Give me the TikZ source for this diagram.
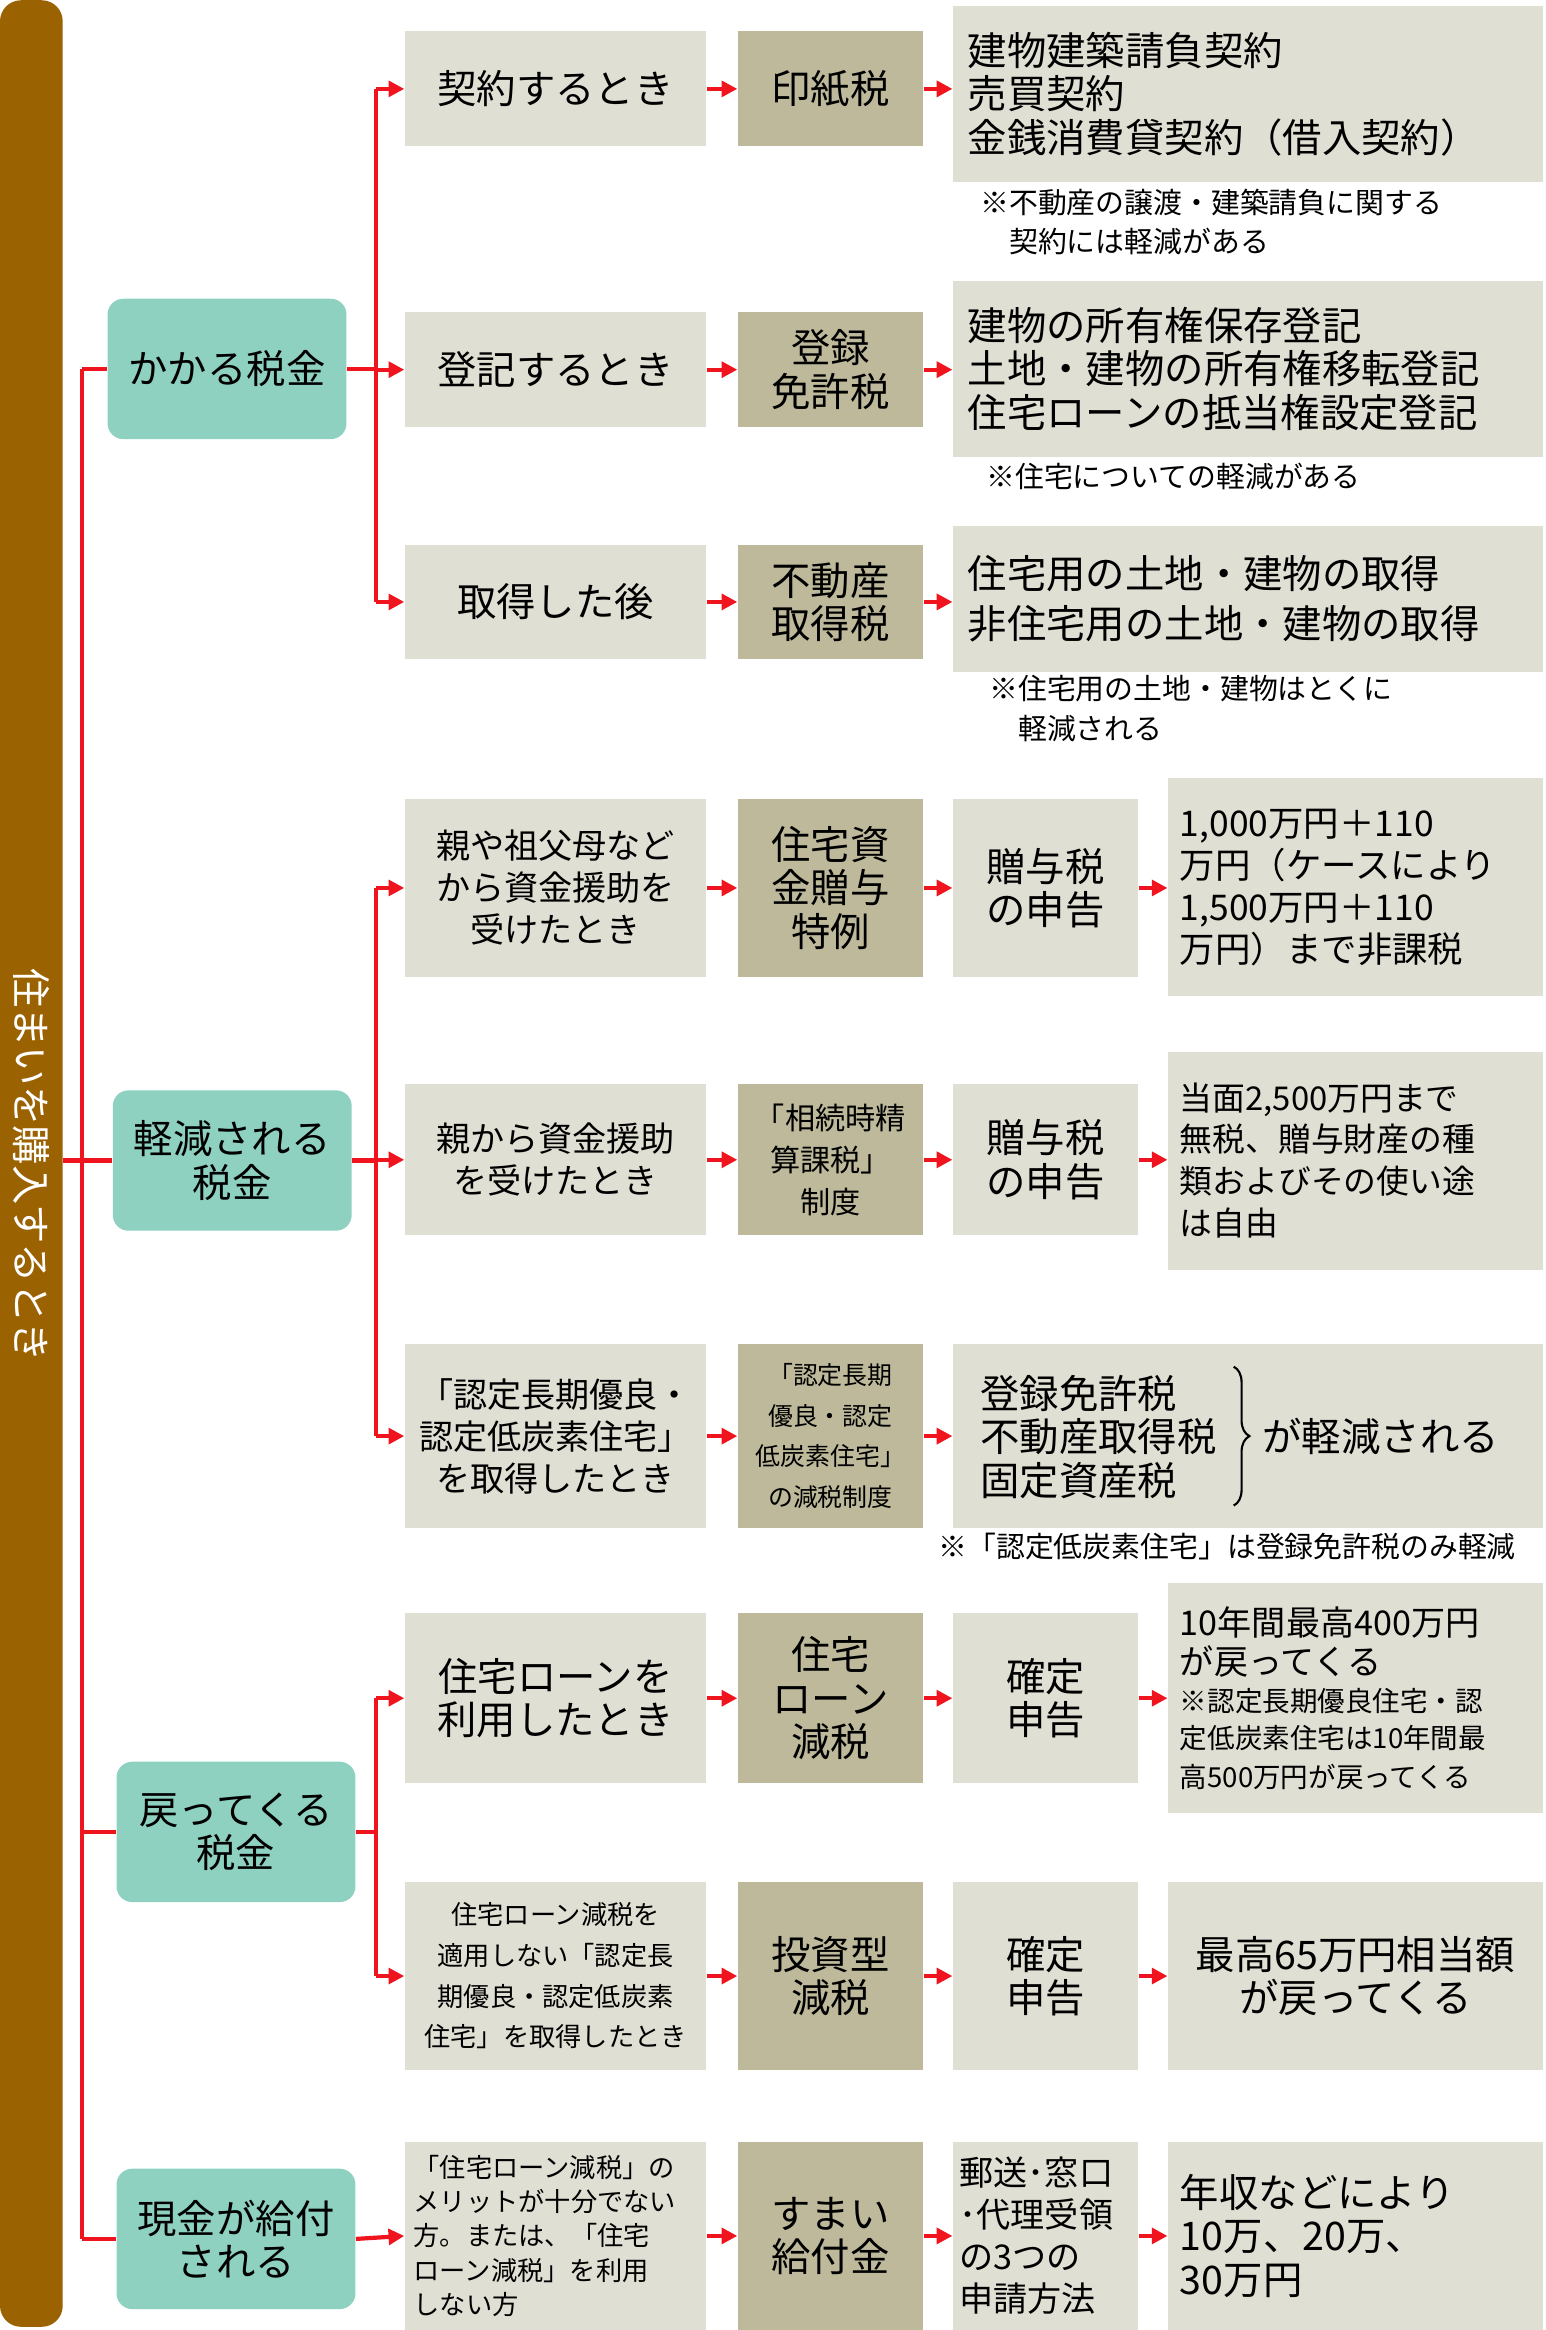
\documentclass[tikz,border=0pt]{standalone}
\usepackage{fontspec}
\setmainfont{Noto Sans CJK JP}
\usetikzlibrary{arrows.meta}
\usetikzlibrary{decorations.pathreplacing}
\definecolor{barbrown}{HTML}{9A6200}
\definecolor{catteal}{HTML}{8ED1C0}
\definecolor{boxlight}{HTML}{E0DFD3}
\definecolor{boxolive}{HTML}{BDB99A}
\definecolor{linered}{HTML}{F0141E}
\newcommand{\bigtxt}{\fontsize{15}{16.5}\selectfont}
\newcommand{\midtxt}{\fontsize{13}{16}\selectfont}
\newcommand{\smalltxt}{\fontsize{10}{15.5}\selectfont}
\newcommand{\notetxt}{\fontsize{11}{15}\selectfont}
\begin{document}
\begin{tikzpicture}[x={(0.02cm,0)},y={(0,-0.02cm)},
    cat/.style={fill=catteal,rounded corners=6pt,minimum width=3.2cm,minimum height=1.88cm,align=center,font=\bigtxt,inner sep=1pt},
    light/.style={fill=boxlight,align=center,font=\bigtxt,inner sep=2pt},
    olive/.style={fill=boxolive,align=center,font=\bigtxt,inner sep=1pt},
    cola/.style={minimum width=4.04cm},
    colb/.style={minimum width=2.48cm},
    wide/.style={light,minimum width=7.9cm,text width=7.5cm,align=left},
    colc/.style={light,minimum width=5.02cm,text width=4.7cm,align=left},
    arr/.style={linered,line width=1.6pt,-{Triangle[length=6pt,width=6pt]}},
    lin/.style={linered,line width=1.6pt},
    note/.style={anchor=north west,align=left,font=\notetxt,inner sep=0pt}]
    \useasboundingbox (0,0) rectangle (1035,1560);
    % left bar
    \node [fill=barbrown,rounded corners=8pt,minimum width=0.84cm,minimum height=31.16cm] (bar) at (21,779) {};
    \node [rotate=-90,text=white,font=\bigtxt] (bartext) at (21,780) {住まいを購入するとき};

    % categories
    \node [cat] (kakaru) at (152,247) {かかる税金};
    \node [cat] (keigen) at (155.5,777) {軽減される\\税金};
    \node [cat] (modoru) at (158,1226.5) {戻ってくる\\税金};
    \node [cat] (genkin) at (158,1499) {現金が給付\\される};

    % row 1-3
    \node [light,cola,minimum height=1.54cm] (r1a) at (372,59.5) {契約するとき};
    \node [olive,colb,minimum height=1.54cm] (r1b) at (556,59.5) {印紙税};
    \node [wide,minimum height=2.36cm] (r1c) at (835.5,63) {建物建築請負契約\\売買契約\\金銭消費貸契約（借入契約）};
    \node [note] (r1n) at (656,126) {※不動産の譲渡・建築請負に関する\\\quad 契約には軽減がある};

    \node [light,cola,minimum height=1.54cm] (r2a) at (372,247.5) {登記するとき};
    \node [olive,colb,minimum height=1.54cm] (r2b) at (556,247.5) {登録\\免許税};
    \node [wide,minimum height=2.36cm] (r2c) at (835.5,247) {建物の所有権保存登記\\土地・建物の所有権移転登記\\住宅ローンの抵当権設定登記};
    \node [note] (r2n) at (660,310) {※住宅についての軽減がある};

    \node [light,cola,minimum height=1.52cm] (r3a) at (372,403) {取得した後};
    \node [olive,colb,minimum height=1.52cm] (r3b) at (556,403) {不動産\\取得税};
    \node [wide,minimum height=1.96cm,font=\fontsize{15}{19}\selectfont] (r3c) at (835.5,401) {住宅用の土地・建物の取得\\非住宅用の土地・建物の取得};
    \node [note] (r3n) at (662,452) {※住宅用の土地・建物はとくに\\\quad 軽減される};

    % row 4-6
    \node [light,cola,minimum height=2.38cm,font=\midtxt] (r4a) at (372,594.5) {親や祖父母など\\から資金援助を\\受けたとき};
    \node [olive,colb,minimum height=2.38cm] (r4b) at (556,594.5) {住宅資\\金贈与\\特例};
    \node [light,colb,minimum height=2.38cm] (r4c) at (700,594.5) {贈与税\\の申告};
    \node [colc,minimum height=2.92cm,font=\fontsize{13.5}{16}\selectfont] (r4d) at (907.5,594) {1,000万円＋110\\万円（ケースにより\\1,500万円＋110\\万円）まで非課税};

    \node [light,cola,minimum height=2.02cm,font=\midtxt] (r5a) at (372,776.5) {親から資金援助\\を受けたとき};
    \node [olive,colb,minimum height=2.02cm,font=\fontsize{11.5}{16}\selectfont] (r5b) at (556,776.5) {「相続時精\\算課税」\\制度};
    \node [light,colb,minimum height=2.02cm] (r5c) at (700,776.5) {贈与税\\の申告};
    \node [colc,minimum height=2.92cm,font=\fontsize{12.5}{16}\selectfont] (r5d) at (907.5,777) {当面2,500万円まで\\無税、贈与財産の種\\類およびその使い途\\は自由};

    \node [light,cola,minimum height=2.46cm,font=\midtxt] (r6a) at (372,961.5) {「認定長期優良・\\認定低炭素住宅」\\を取得したとき};
    \node [olive,colb,minimum height=2.46cm,font=\fontsize{9.5}{15.5}\selectfont] (r6b) at (556,961.5) {「認定長期\\優良・認定\\低炭素住宅」\\の減税制度};
    \node [light,minimum width=7.9cm,minimum height=2.46cm] (r6c) at (835.5,961.5) {};
    \node [anchor=west,align=left,font=\bigtxt,inner sep=0pt] (r6t) at (656,962) {登録免許税\\不動産取得税\\固定資産税};
    \node [anchor=west,font=\bigtxt,inner sep=0pt] (r6s) at (845,962) {が軽減される};
    \coordinate (bracetop) at (826,915);
    \coordinate (bracebot) at (826,1008);
    \draw [decorate,decoration={brace,amplitude=6pt},line width=0.8pt] (bracetop) -- (bracebot);
    \node [note] (r6n) at (628,1026) {※「認定低炭素住宅」は登録免許税のみ軽減};

    % row 7-8
    \node [light,cola,minimum height=2.28cm] (r7a) at (372,1137) {住宅ローンを\\利用したとき};
    \node [olive,colb,minimum height=2.28cm] (r7b) at (556,1137) {住宅\\ローン\\減税};
    \node [light,colb,minimum height=2.28cm] (r7c) at (700,1137) {確定\\申告};
    \node [colc,minimum height=3.08cm,font=\fontsize{13}{15}\selectfont] (r7d) at (907.5,1137) {10年間最高400万円\\が戻ってくる\\{\fontsize{10.5}{14}\selectfont ※認定長期優良住宅・認\\定低炭素住宅は10年間最\\高500万円が戻ってくる}};

    \node [light,cola,minimum height=2.52cm,font=\smalltxt] (r8a) at (372,1323) {住宅ローン減税を\\適用しない「認定長\\期優良・認定低炭素\\住宅」を取得したとき};
    \node [olive,colb,minimum height=2.52cm] (r8b) at (556,1323) {投資型\\減税};
    \node [light,colb,minimum height=2.52cm] (r8c) at (700,1323) {確定\\申告};
    \node [light,minimum width=5.02cm,minimum height=2.52cm] (r8d) at (907.5,1323) {最高65万円相当額\\が戻ってくる};

    % row 9
    \node [light,cola,minimum height=2.52cm,font=\fontsize{10}{13}\selectfont,text width=3.8cm,align=left] (r9a) at (372,1497) {「住宅ローン減税」の\\メリットが十分でない\\方。または、「住宅\\ローン減税」を利用\\しない方};
    \node [olive,colb,minimum height=2.52cm] (r9b) at (556,1497) {すまい\\給付金};
    \node [light,colb,minimum height=2.52cm,font=\midtxt,text width=2.3cm,align=left] (r9c) at (700,1497) {郵送･窓口\\･代理受領\\の3つの\\申請方法};
    \node [colc,minimum height=2.52cm] (r9d) at (907.5,1497) {年収などにより\\10万、20万、\\30万円};

    % trunk
    \draw [lin] (55,247) -- (55,1499);
    \draw [lin] (bar.east |- 0,777) -- (55,777);
    \draw [lin] (55,247) -- (kakaru.west);
    \draw [lin] (55,777) -- (keigen.west);
    \draw [lin] (55,1226.5) -- (modoru.west);
    \draw [lin] (55,1499) -- (genkin.west);

    % branches
    \draw [lin] (kakaru.east) -- (252,247);
    \draw [lin] (252,59.5) -- (252,403);
    \draw [lin] (keigen.east) -- (252,777);
    \draw [lin] (252,594.5) -- (252,961.5);
    \draw [lin] (modoru.east) -- (252,1226.5);
    \draw [lin] (252,1137) -- (252,1323);
    \foreach \r in {r1a,r2a,r3a,r4a,r5a,r6a,r7a,r8a}
      \draw [arr] (252,0 |- \r.west) -- (\r.west);
    \draw [arr] (genkin.east) -- (r9a.west);

    % row arrows
    \foreach \a/\b in {r1a/r1b,r1b/r1c,r2a/r2b,r2b/r2c,r3a/r3b,r3b/r3c,
        r4a/r4b,r4b/r4c,r4c/r4d,r5a/r5b,r5b/r5c,r5c/r5d,r6a/r6b,r6b/r6c,
        r7a/r7b,r7b/r7c,r7c/r7d,r8a/r8b,r8b/r8c,r8c/r8d,r9a/r9b,r9b/r9c,r9c/r9d}
      \draw [arr] (\a.east) -- (\a.east -| \b.west);
\end{tikzpicture}
\end{document}
